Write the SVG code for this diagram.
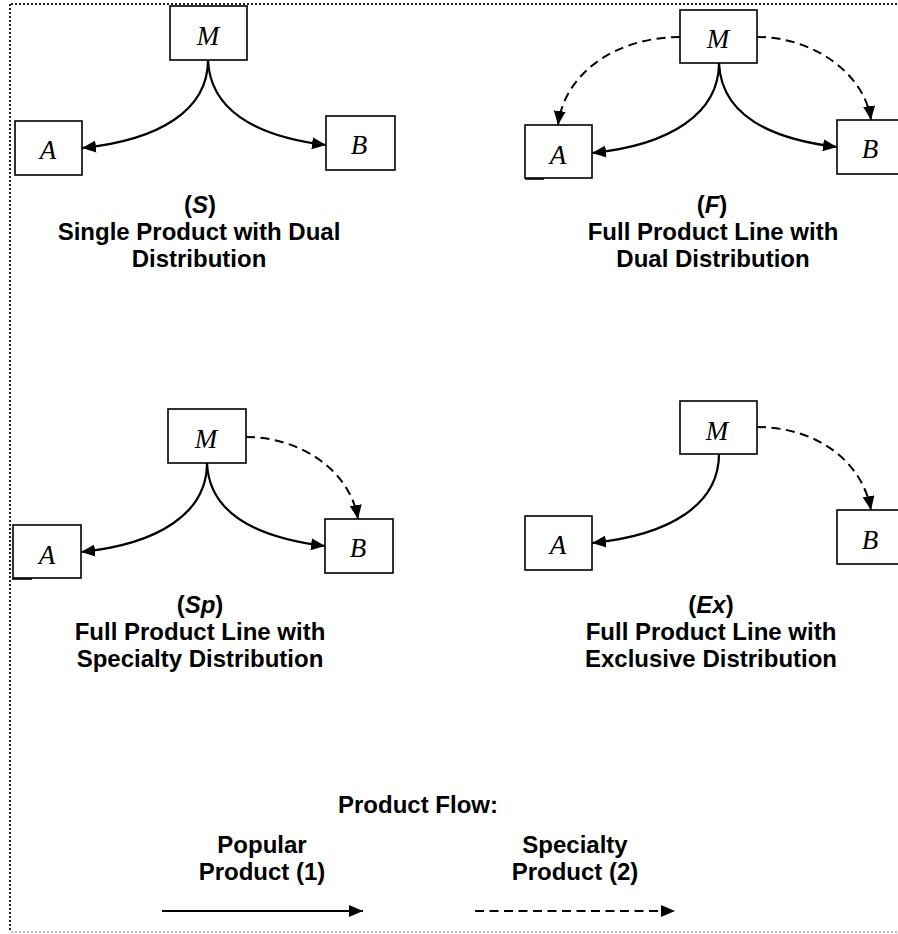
<svg xmlns="http://www.w3.org/2000/svg" width="898" height="934" viewBox="0 0 898 934">
<style>
.box{fill:#fff;stroke:#000;stroke-width:1.6}
.lbl{font-family:"Liberation Serif","Times New Roman",serif;font-style:italic;font-size:27px;text-anchor:middle;fill:#000}
.cap{font-family:"Liberation Sans",Arial,sans-serif;font-weight:bold;font-size:24px;text-anchor:middle;fill:#000}
.it{font-style:italic}
.solid{fill:none;stroke:#000;stroke-width:2.2;marker-end:url(#ah)}
.dash{fill:none;stroke:#000;stroke-width:2;stroke-dasharray:9 5.5;marker-end:url(#ah)}
.frame{fill:none;stroke:#222;stroke-width:2;stroke-dasharray:2 2}
.stub{stroke:#000;stroke-width:1.6}
</style>
<defs>
<marker id="ah" markerUnits="userSpaceOnUse" markerWidth="16" markerHeight="14" refX="14" refY="6" orient="auto">
<path d="M0,0 L14,6 L0,12 Z" fill="#000"/>
</marker>
</defs>

<g id="frame">
<line class="frame" x1="11" y1="4" x2="898" y2="4"/>
<line class="frame" x1="10" y1="4" x2="10" y2="932"/>
<line class="frame" x1="11" y1="932" x2="898" y2="932" style="stroke:#aaa;stroke-width:1.5"/>
</g>

<g id="connectors">
<path class="solid" d="M208,60 C208,110 160,140 82,148"/>
<path class="solid" d="M208,60 C210,108 252,136 326,145"/>
<path class="solid" d="M719,63 C719,113 671,145 592,153"/>
<path class="solid" d="M719,63 C721,111 763,138 837,147"/>
<path class="dash" d="M680,37 C620,37 565,70 558,125"/>
<path class="dash" d="M757,37 C815,37 865,75 871,120"/>
<path class="solid" d="M207,463 C207,513 159,544 81,552"/>
<path class="solid" d="M207,463 C209,510 251,537 325,546"/>
<path class="dash" d="M246,437 C300,437 350,470 358,519"/>
<path class="solid" d="M719,454 C719,504 671,535 592,543"/>
<path class="dash" d="M757,427 C815,427 862,460 871,510"/>
<path class="solid" d="M162,911 L363,911"/>
<path class="dash" d="M475,911 L675,911"/>
</g>

<g id="S-M"><rect class="box" x="170" y="6" width="77" height="54"/><text class="lbl" x="208" y="45">M</text></g>
<g id="S-A"><rect class="box" x="15" y="121" width="67" height="54"/><text class="lbl" x="48" y="159">A</text></g>
<g id="S-B"><rect class="box" x="326" y="116" width="69" height="54"/><text class="lbl" x="359" y="154">B</text></g>
<g id="S-caption"><text class="cap" x="200" y="213">(<tspan class="it">S</tspan>)</text><text class="cap" x="199" y="240">Single Product with Dual</text><text class="cap" x="199" y="267">Distribution</text></g>

<g id="F-M"><rect class="box" x="680" y="10" width="77" height="53"/><text class="lbl" x="718" y="48">M</text></g>
<g id="F-A"><rect class="box" x="525" y="125" width="67" height="53"/><line class="stub" x1="525" y1="179" x2="544" y2="179"/><text class="lbl" x="558" y="164">A</text></g>
<g id="F-B"><rect class="box" x="837" y="120" width="69" height="54"/><text class="lbl" x="870" y="158">B</text></g>
<g id="F-caption"><text class="cap" x="712" y="213">(<tspan class="it">F</tspan>)</text><text class="cap" x="713" y="240">Full Product Line with</text><text class="cap" x="713" y="267">Dual Distribution</text></g>

<g id="Sp-M"><rect class="box" x="168" y="409" width="78" height="54"/><text class="lbl" x="206" y="448">M</text></g>
<g id="Sp-A"><rect class="box" x="13" y="525" width="68" height="53"/><line class="stub" x1="12" y1="579" x2="32" y2="579"/><text class="lbl" x="47" y="564">A</text></g>
<g id="Sp-B"><rect class="box" x="325" y="519" width="68" height="54"/><text class="lbl" x="358" y="557">B</text></g>
<g id="Sp-caption"><text class="cap" x="200" y="613">(<tspan class="it">Sp</tspan>)</text><text class="cap" x="200" y="640">Full Product Line with</text><text class="cap" x="200" y="667">Specialty Distribution</text></g>

<g id="Ex-M"><rect class="box" x="680" y="401" width="77" height="53"/><text class="lbl" x="717" y="440">M</text></g>
<g id="Ex-A"><rect class="box" x="525" y="516" width="67" height="54"/><text class="lbl" x="558" y="554">A</text></g>
<g id="Ex-B"><rect class="box" x="837" y="510" width="69" height="54"/><text class="lbl" x="870" y="549">B</text></g>
<g id="Ex-caption"><text class="cap" x="711" y="613">(<tspan class="it">Ex</tspan>)</text><text class="cap" x="711" y="640">Full Product Line with</text><text class="cap" x="711" y="667">Exclusive Distribution</text></g>

<g id="legend">
<text class="cap" x="418" y="813">Product Flow:</text>
<text class="cap" x="262" y="853">Popular</text>
<text class="cap" x="262" y="880">Product (1)</text>
<text class="cap" x="575" y="853">Specialty</text>
<text class="cap" x="575" y="880">Product (2)</text>
</g>
</svg>
